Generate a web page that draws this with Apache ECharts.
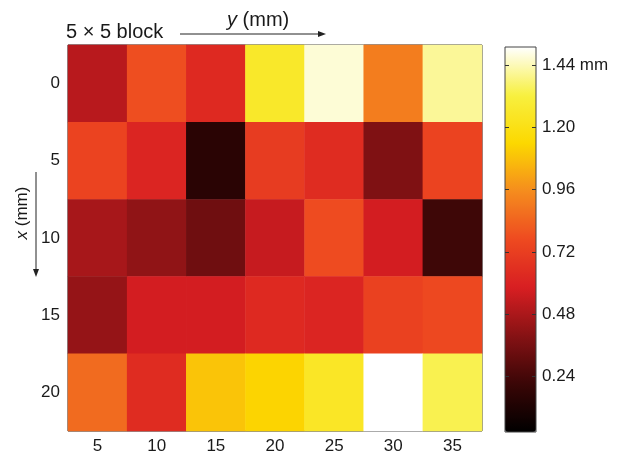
<!DOCTYPE html>
<html>
<head>
<meta charset="utf-8">
<script src="https://cdn.jsdelivr.net/npm/echarts@6/dist/echarts.min.js"></script>
<style>
  html, body { margin: 0; padding: 0; background: #fff; }
  #chart { width: 626px; height: 457px; }
</style>
</head>
<body>
<div id="chart"></div>
<script>
// y (mm) columns, x (mm) rows
const yPos = ['5', '10', '15', '20', '25', '30', '35']
const xPos = ['0', '5', '10', '15', '20']
// deviation (mm), one array per row
const row0 = [0.51, 0.78, 0.63, 1.26, 1.47, 0.91, 1.41]
const row5 = [0.74, 0.61, 0.16, 0.71, 0.64, 0.38, 0.74]
const row10 = [0.47, 0.42, 0.34, 0.54, 0.77, 0.57, 0.22]
const row15 = [0.43, 0.57, 0.57, 0.63, 0.61, 0.73, 0.76]
const row20 = [0.86, 0.64, 1.09, 1.13, 1.25, 1.51, 1.34]
const rows = [row0, row5, row10, row15, row20]
// colour bar
const barMin = 0.025
const barMax = 1.51
const barTicks = [0.24, 0.48, 0.72, 0.96, 1.20, 1.44]

const cells = []
rows.forEach((row, r) => {
    row.forEach((v, c) => cells.push([c, r, v]))
})

const txt = '#1a1a1a'
const font = 'Liberation Sans'
const tickStyle = { show: true, inside: true, length: 5, alignWithLabel: true, lineStyle: { color: '#222' } }

const myChart = echarts.init(document.getElementById('chart'))
const option = {
    animation: false,
    grid: [
        { left: 68, top: 45, width: 414, height: 386, show: true, borderColor: '#222', borderWidth: 1 },
        { left: 505, top: 47, width: 31, height: 385, show: false }
    ],
    xAxis: [
        {
            type: 'category', gridIndex: 0, position: 'bottom', data: yPos,
            axisLine: { show: false }, axisTick: tickStyle, splitLine: { show: false },
            axisLabel: { fontSize: 17, color: txt, margin: 7, fontFamily: font }
        },
        {
            type: 'category', gridIndex: 0, position: 'top', data: yPos,
            axisLine: { show: false }, axisTick: tickStyle, axisLabel: { show: false }
        },
        { type: 'value', gridIndex: 1, min: 0, max: 1, show: false }
    ],
    yAxis: [
        {
            type: 'category', gridIndex: 0, position: 'left', inverse: true, data: xPos,
            axisLine: { show: false }, axisTick: tickStyle, splitLine: { show: false },
            axisLabel: { fontSize: 17, color: txt, margin: 8, fontFamily: font }
        },
        {
            type: 'category', gridIndex: 0, position: 'right', inverse: true, data: xPos,
            axisLine: { show: false }, axisTick: tickStyle, axisLabel: { show: false }
        },
        // colour bar labels
        {
            type: 'value', gridIndex: 1, position: 'right', min: barMin, max: barMax, zlevel: 1,
            axisLine: { show: false }, splitLine: { show: false }, axisTick: { show: false },
            axisLabel: {
                customValues: barTicks, fontSize: 17, color: txt, margin: 6, fontFamily: font,
                formatter: v => v === 1.44 ? v.toFixed(2) + ' mm' : v.toFixed(2)
            }
        },
        // colour bar ticks, left edge
        {
            type: 'value', gridIndex: 1, position: 'left', min: barMin, max: barMax, zlevel: 1,
            axisLine: { show: false }, splitLine: { show: false }, axisLabel: { show: false },
            axisTick: { inside: true, length: 4, customValues: barTicks, lineStyle: { color: '#333' } }
        },
        // colour bar ticks, right edge
        {
            type: 'value', gridIndex: 1, position: 'left', offset: -31, min: barMin, max: barMax, zlevel: 1,
            axisLine: { show: false }, splitLine: { show: false }, axisLabel: { show: false },
            axisTick: { inside: false, length: 4, customValues: barTicks, lineStyle: { color: '#333' } }
        }
    ],
    visualMap: {
        type: 'continuous', seriesIndex: 0, min: barMin, max: barMax,
        calculable: false, left: 505, top: 47, itemWidth: 31, itemHeight: 385, padding: 0,
        inRange: {
            color: ['#000000', '#3a0606', '#861214', '#d81e22', '#ee4a20', '#f58c1e', '#fcd800', '#f8f040', '#ffffff']
        }
    },
    graphic: [
        // colour bar frame
        {
            type: 'rect', zlevel: 1, shape: { x: 505, y: 47, width: 31, height: 385 },
            style: { fill: 'none', stroke: '#444', lineWidth: 1 }
        },
        { type: 'text', x: 66, y: 32, style: { text: '5 × 5 block', font: '20px "Liberation Sans"', fill: txt, verticalAlign: 'middle' } },
        {
            type: 'text', x: 227, y: 20,
            style: {
                text: '{i|y} (mm)', font: '20px "Liberation Sans"', fill: txt, verticalAlign: 'middle',
                rich: { i: { fontStyle: 'italic', fontSize: 20, fontFamily: font } }
            }
        },
        { type: 'line', shape: { x1: 180, y1: 34, x2: 320, y2: 34 }, style: { stroke: '#222', lineWidth: 1 } },
        { type: 'polygon', shape: { points: [[326, 34], [318, 31], [318, 37]] }, style: { fill: '#222' } },
        {
            type: 'text', x: 22, y: 213, rotation: Math.PI / 2,
            style: {
                text: '{i|x} (mm)', font: '17px "Liberation Sans"', fill: txt, align: 'center', verticalAlign: 'middle',
                rich: { i: { fontStyle: 'italic', fontSize: 17, fontFamily: font } }
            }
        },
        { type: 'line', shape: { x1: 36, y1: 172, x2: 36, y2: 270 }, style: { stroke: '#222', lineWidth: 1 } },
        { type: 'polygon', shape: { points: [[36, 277], [33, 269], [39, 269]] }, style: { fill: '#222' } }
    ],
    series: [
        {
            type: 'heatmap', xAxisIndex: 0, yAxisIndex: 0, data: cells,
            itemStyle: { borderWidth: 0 }, emphasis: { disabled: true }
        }
    ]
}
myChart.setOption(option)
</script>
</body>
</html>
